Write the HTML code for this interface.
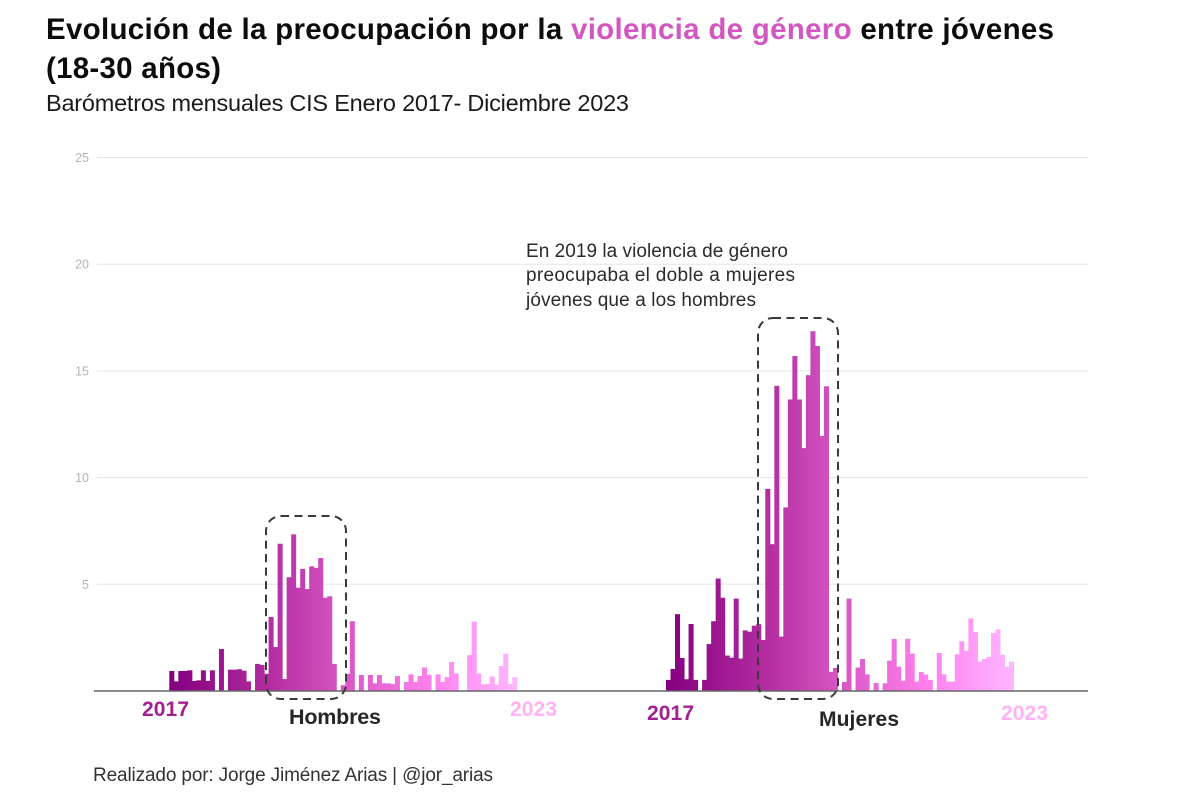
<!DOCTYPE html>
<html lang="es">
<head>
<meta charset="utf-8">
<title>Evolución de la preocupación por la violencia de género</title>
<style>
html,body{margin:0;padding:0;background:#fff;}
svg{display:block;font-family:"Liberation Sans",sans-serif;}
</style>
</head>
<body>
<svg id="chart" width="1200" height="799" viewBox="0 0 1200 799" xmlns="http://www.w3.org/2000/svg">
  <g id="grid"></g>
  <g id="bars-h"></g>
  <g id="bars-m"></g>
  <line x1="94" x2="1088" y1="691" y2="691" stroke="#666" stroke-width="1.6"/>

  <text x="46" y="39" font-size="29.5" font-weight="700" fill="#0c0c0c" textLength="1008" lengthAdjust="spacing">Evolución de la preocupación por la <tspan fill="#d257c0">violencia de género</tspan> entre jóvenes</text>
  <text x="46" y="78" font-size="29.5" font-weight="700" fill="#0c0c0c" textLength="175" lengthAdjust="spacing">(18-30 años)</text>
  <text x="46" y="111" font-size="23.5" fill="#1a1a1a" textLength="583" lengthAdjust="spacing">Barómetros mensuales CIS Enero 2017- Diciembre 2023</text>

  <text x="526" y="257" font-size="19" fill="#2b2b2b" textLength="262" lengthAdjust="spacing">En 2019 la violencia de género</text>
  <text x="526" y="281" font-size="19" fill="#2b2b2b" textLength="269" lengthAdjust="spacing">preocupaba el doble a mujeres</text>
  <text x="526" y="306" font-size="19" fill="#2b2b2b" textLength="230" lengthAdjust="spacing">jóvenes que a los hombres</text>

  <rect x="266" y="516" width="80" height="183" rx="15" fill="none" stroke="#3a3a3a" stroke-width="2" stroke-dasharray="8 5.5"/>
  <rect x="758" y="318" width="80" height="381" rx="15" fill="none" stroke="#3a3a3a" stroke-width="2" stroke-dasharray="8 5.5"/>

  <text x="142" y="716" font-size="21" font-weight="700" fill="#a3208f" textLength="47" lengthAdjust="spacing">2017</text>
  <text x="510" y="716" font-size="21" font-weight="700" fill="#ffb3f5" textLength="47" lengthAdjust="spacing">2023</text>
  <text x="647" y="720" font-size="21" font-weight="700" fill="#a3208f" textLength="47" lengthAdjust="spacing">2017</text>
  <text x="1001" y="720" font-size="21" font-weight="700" fill="#ffb3f5" textLength="47" lengthAdjust="spacing">2023</text>

  <text x="289" y="724" font-size="21.5" font-weight="700" fill="#262626" textLength="92" lengthAdjust="spacing">Hombres</text>
  <text x="819" y="726" font-size="21" font-weight="700" fill="#262626" textLength="80" lengthAdjust="spacing">Mujeres</text>

  <text x="93" y="781" font-size="19" fill="#333" textLength="400" lengthAdjust="spacing">Realizado por: Jorge Jiménez Arias | @jor_arias</text>
</svg>
<script>
const yTicks = [5, 10, 15, 20, 25];
const hombresValues = [0.94,0.45,0.94,0.94,0.97,0.47,0.5,0.97,0.47,0.97,0,1.97,0,1.0,1.0,1.02,0.95,0.45,0,1.27,1.22,0.81,3.47,2.06,6.9,0.56,5.33,7.34,4.84,5.72,4.78,5.84,5.77,6.23,4.37,4.44,1.27,0,0.27,0.8,3.27,0,0.75,0,0.75,0.36,0.75,0.36,0.36,0.33,0.7,0,0.42,0.78,0.42,0.7,1.1,0.76,0,0.78,0.42,0.65,1.36,0.82,0,0,1.68,3.25,0.82,0.31,0.33,0.68,0.3,1.17,1.75,0.33,0.65];
const mujeresValues = [0.52,1.03,3.6,1.55,0.55,3.14,0.52,0,0.52,2.2,3.27,5.27,4.37,1.66,1.56,4.33,1.52,2.84,2.78,3.06,3.13,2.39,9.47,6.88,14.3,2.55,8.6,13.66,15.7,13.66,11.38,14.8,16.86,16.17,11.95,14.28,0.9,1.08,0,0.42,4.33,0,1.1,1.5,0.78,0,0.37,0,0.36,1.42,2.44,1.14,0.48,2.45,1.75,0.44,0.89,0.77,0.52,0,1.78,0.78,0.44,0.44,1.72,2.33,1.88,3.4,2.77,1.38,1.5,1.6,2.72,2.89,1.7,1.14,1.38];

const NS = 'http://www.w3.org/2000/svg';
const BASE_Y = 691;
const UNIT = 21.34;
const STEP = 4.513;

function yScale(v) { return BASE_Y - v * UNIT; }
function xHombres(i) { return 169.3 + STEP * i; }
function xMujeres(i) { return 666 + STEP * i; }

const rampStops = [
  [0, [133, 0, 128]],
  [0.27, [176, 42, 158]],
  [0.5, [216, 86, 196]],
  [0.76, [255, 128, 238]],
  [1, [255, 182, 255]]
];
function rampColor(t) {
  for (let k = 1; k < rampStops.length; k++) {
    if (t <= rampStops[k][0]) {
      const a = rampStops[k - 1], b = rampStops[k];
      const f = (t - a[0]) / (b[0] - a[0]);
      const c = a[1].map(function (v, j) { return Math.round(v + (b[1][j] - v) * f); });
      return 'rgb(' + c.join(',') + ')';
    }
  }
  return 'rgb(255,182,255)';
}

const grid = document.getElementById('grid');
yTicks.forEach(function (tick) {
  const line = document.createElementNS(NS, 'line');
  
  
  line.setAttribute('x1', 97);
  line.setAttribute('x2', 1088);
  line.setAttribute('y1', yScale(tick));
  line.setAttribute('y2', yScale(tick));
  line.setAttribute('stroke', '#e6e6e6');
  line.setAttribute('stroke-width', '1');
  grid.appendChild(line);
  const label = document.createElementNS(NS, 'text');
  
  
  label.setAttribute('x', 89);
  label.setAttribute('y', yScale(tick) + 4.5);
  label.setAttribute('text-anchor', 'end');
  label.setAttribute('font-size', '12.5');
  label.setAttribute('fill', '#b4b4b4');
  label.textContent = tick;
  grid.appendChild(label);
});

function drawSeries(groupId, values, xFn, barName) {
  const group = document.getElementById(groupId);
  values.forEach(function (v, i) {
    const r = document.createElementNS(NS, 'rect');
    
    
    r.setAttribute('x', xFn(i));
    r.setAttribute('y', yScale(v));
    r.setAttribute('width', STEP + 0.5);
    r.setAttribute('height', BASE_Y - yScale(v));
    r.setAttribute('fill', rampColor(i / (values.length - 1)));
    group.appendChild(r);
  });
}
drawSeries('bars-h', hombresValues, xHombres, 'bar-hombres');
drawSeries('bars-m', mujeresValues, xMujeres, 'bar-mujeres');
</script>
</body>
</html>
